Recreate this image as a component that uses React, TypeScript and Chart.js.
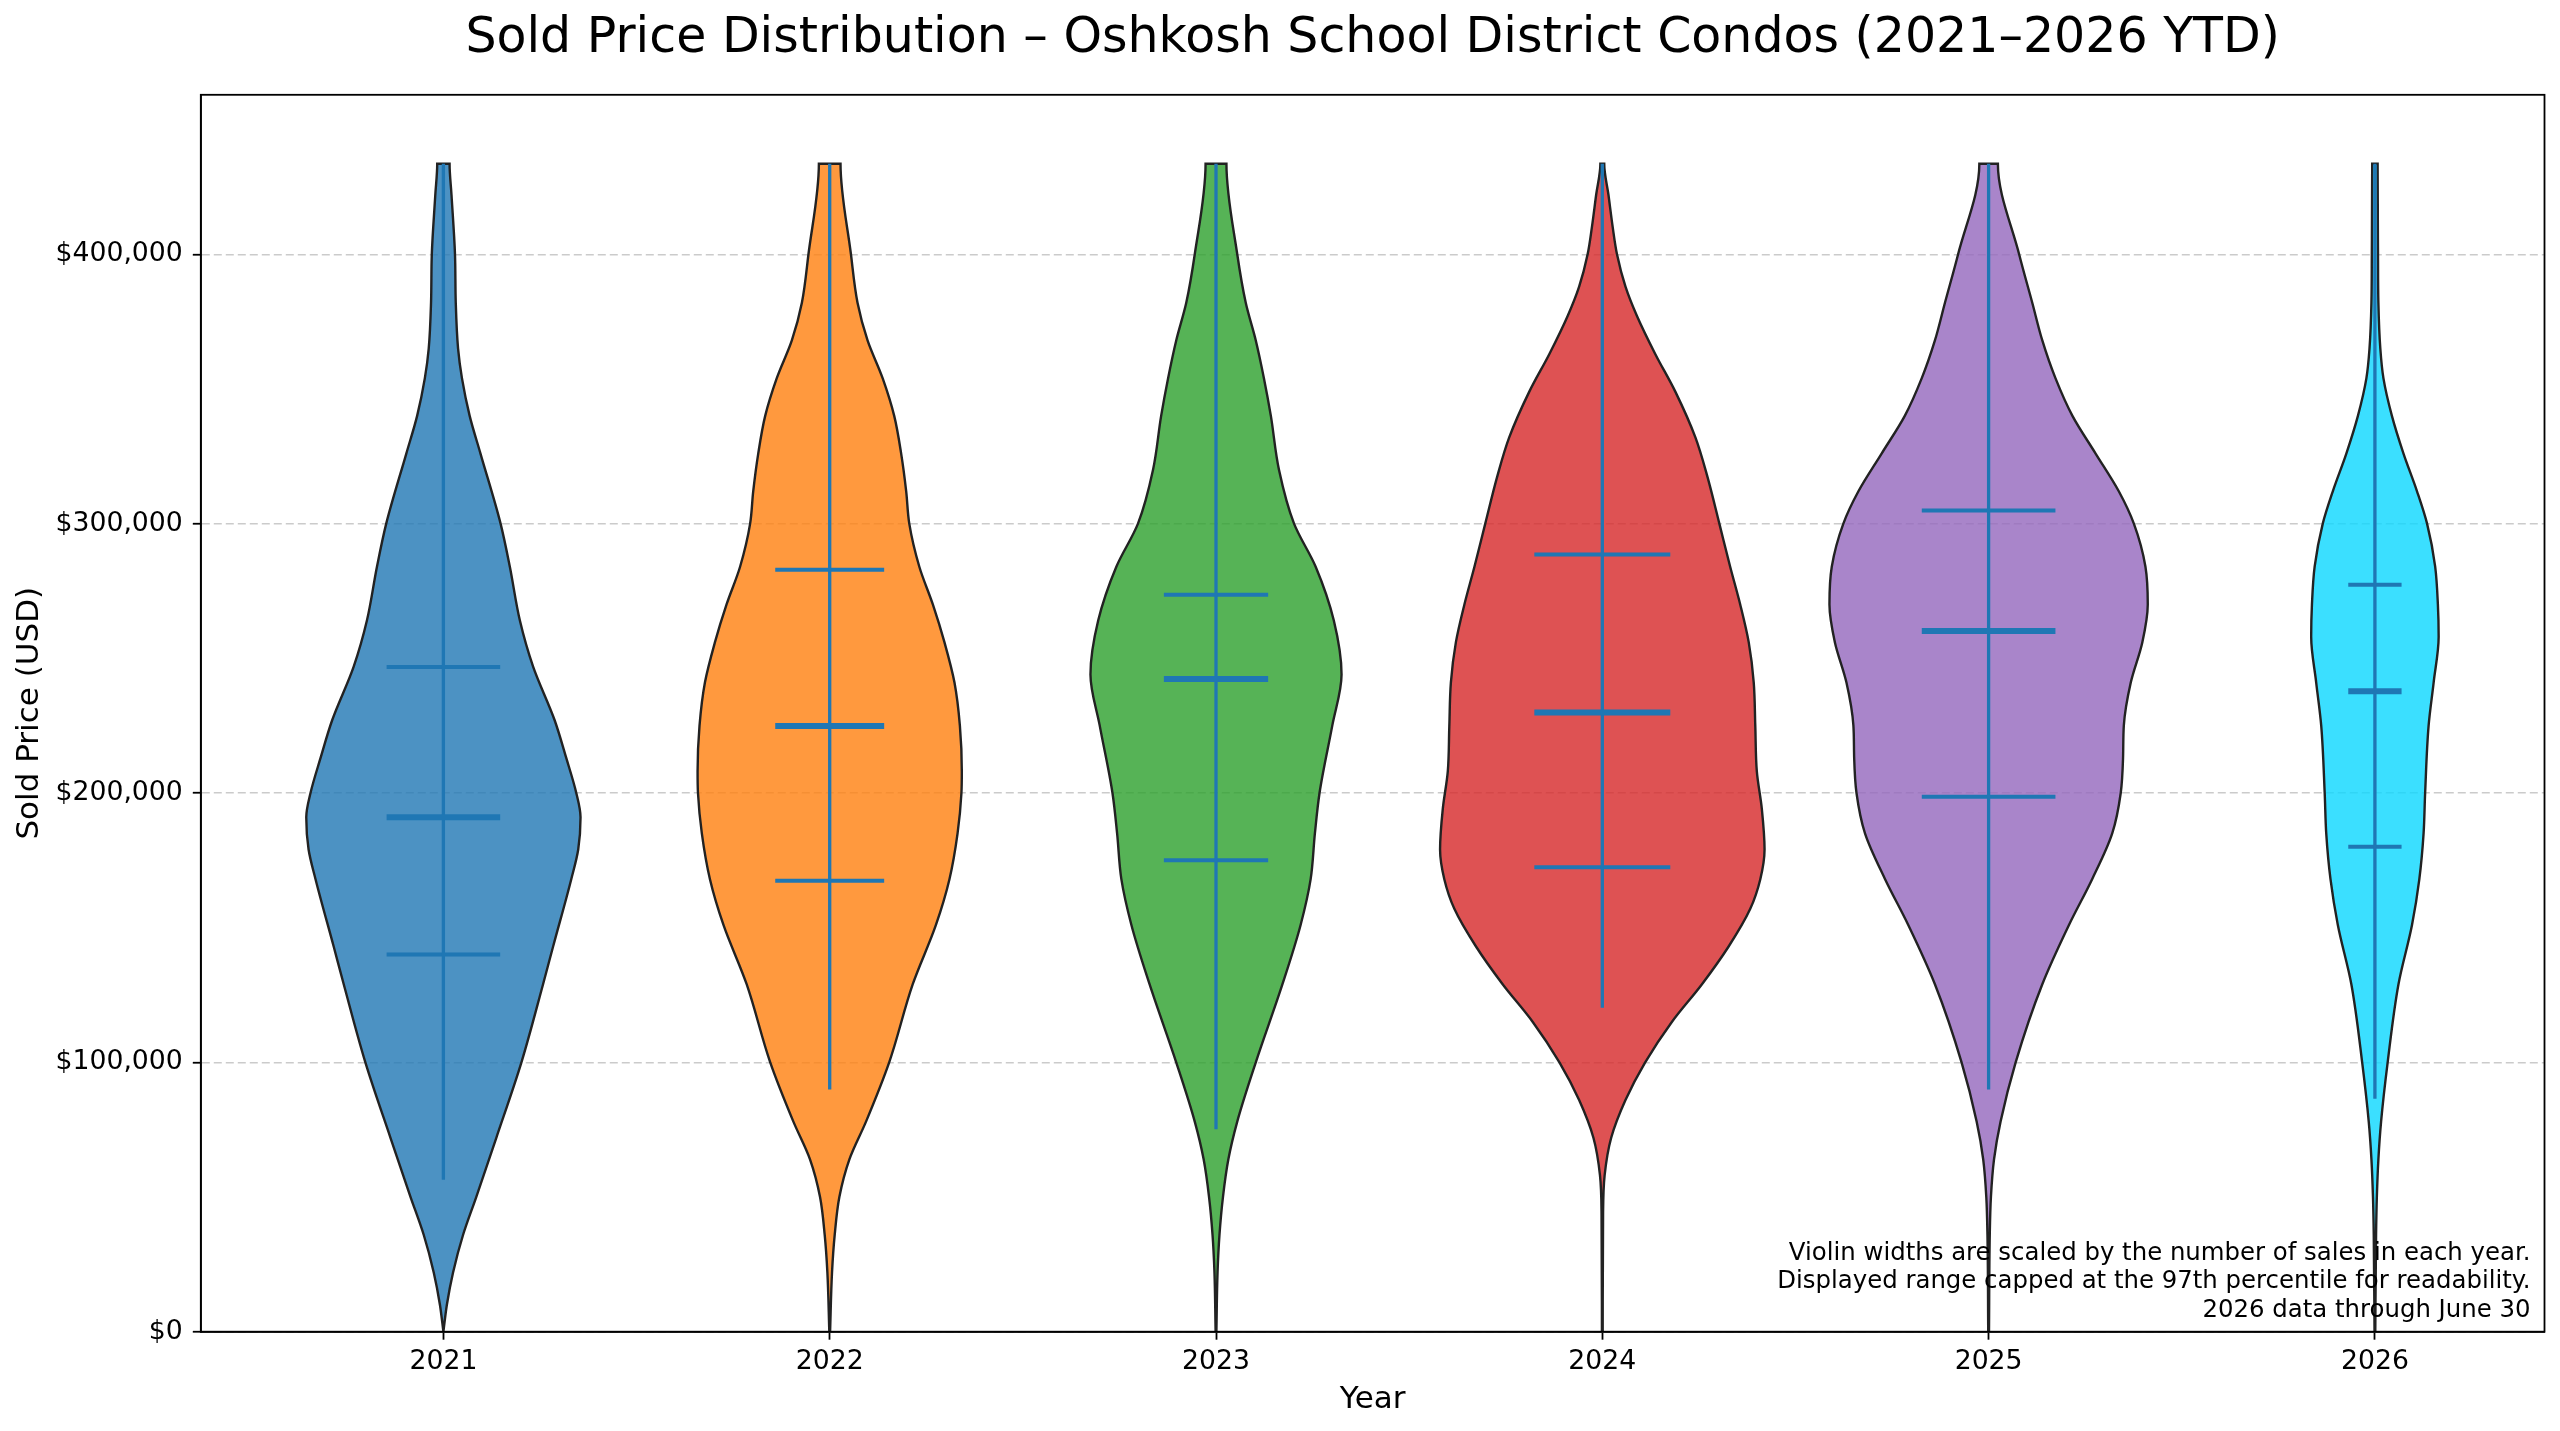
import { useEffect, useRef } from "react"
import { Chart, registerables, type ChartConfiguration, type Plugin } from "chart.js"

Chart.register(...registerables)

// Years (x positions of the violins)
const years = [2021, 2022, 2023, 2024, 2025, 2026]

// Violin outlines: price levels (USD, thousands) and the half-width (x-axis units) read at each
const prices2021 = [0, 10, 22, 36, 50, 72, 100, 129, 143, 168, 179, 191, 200, 213, 227, 247, 264, 284, 300, 326, 340, 354, 365, 382, 400, 422, 433.6]
const halfWidths2021 = [0, 0.009, 0.025, 0.051, 0.085, 0.137, 0.202, 0.258, 0.284, 0.331, 0.349, 0.355, 0.344, 0.318, 0.288, 0.232, 0.198, 0.172, 0.148, 0.096, 0.068, 0.048, 0.038, 0.032, 0.03, 0.021, 0.016]

const prices2022 = [0, 22, 36, 50, 64, 78, 100, 129, 151, 168, 185, 200, 208, 225, 241, 256, 270, 284, 300, 312, 326, 340, 354, 368, 382, 400, 433.6]
const halfWidths2022 = [0.001, 0.006, 0.013, 0.025, 0.051, 0.094, 0.154, 0.215, 0.275, 0.31, 0.331, 0.341, 0.342, 0.337, 0.323, 0.297, 0.267, 0.232, 0.206, 0.198, 0.185, 0.167, 0.137, 0.098, 0.072, 0.055, 0.028]

const prices2023 = [0, 22, 36, 50, 64, 78, 100, 129, 151, 168, 185, 200, 225, 244, 264, 284, 300, 320, 340, 354, 368, 382, 400, 433.6]
const halfWidths2023 = [0.001, 0.004, 0.009, 0.018, 0.032, 0.055, 0.103, 0.172, 0.219, 0.245, 0.256, 0.268, 0.301, 0.325, 0.305, 0.258, 0.202, 0.163, 0.142, 0.124, 0.103, 0.077, 0.055, 0.027]

const prices2024 = [0, 44, 58, 72, 86, 100, 115, 129, 143, 157, 168, 179, 194, 208, 225, 241, 256, 270, 284, 300, 318, 332, 349, 363, 377, 388, 400, 410, 422, 433.6]
const halfWidths2024 = [0.001, 0.002, 0.006, 0.023, 0.06, 0.111, 0.18, 0.258, 0.327, 0.383, 0.409, 0.42, 0.413, 0.4, 0.396, 0.392, 0.379, 0.357, 0.331, 0.303, 0.271, 0.241, 0.189, 0.137, 0.09, 0.06, 0.038, 0.027, 0.016, 0.005]

const prices2025 = [0, 36, 50, 64, 78, 100, 129, 151, 168, 185, 200, 213, 225, 241, 256, 270, 284, 300, 312, 326, 340, 354, 368, 382, 400, 433.6]
const halfWidths2025 = [0.001, 0.003, 0.006, 0.014, 0.031, 0.07, 0.139, 0.208, 0.268, 0.32, 0.342, 0.348, 0.35, 0.368, 0.398, 0.412, 0.406, 0.376, 0.337, 0.277, 0.217, 0.173, 0.139, 0.113, 0.079, 0.024]

const prices2026 = [0, 36, 50, 64, 78, 100, 129, 151, 168, 185, 200, 225, 241, 258, 270, 284, 300, 312, 326, 340, 354, 365, 382, 400, 433.6]
const halfWidths2026 = [0.001, 0.003, 0.005, 0.009, 0.016, 0.033, 0.061, 0.096, 0.115, 0.126, 0.13, 0.139, 0.152, 0.165, 0.163, 0.156, 0.135, 0.109, 0.074, 0.044, 0.022, 0.014, 0.009, 0.008, 0.007]

const violinPrices = [prices2021, prices2022, prices2023, prices2024, prices2025, prices2026]
const violinHalfWidths = [halfWidths2021, halfWidths2022, halfWidths2023, halfWidths2024, halfWidths2025, halfWidths2026]

// Summary statistics per year (USD)
const lowerQuartiles = [140000, 167400, 175000, 172400, 198600, 180000]
const medians = [191000, 224900, 242300, 229900, 260100, 237800]
const upperQuartiles = [246800, 282900, 273600, 288500, 304900, 277300]
const stemLows = [56400, 89900, 75200, 120300, 89900, 86500]
const stemHighs = [433600, 433600, 433600, 433600, 433600, 433600]
// Half-length of the median / quartile bars (x-axis units), scaled with sales count
const barHalfWidths = [0.147, 0.141, 0.135, 0.176, 0.173, 0.069]

const yTicks = [0, 100000, 200000, 300000, 400000]

const noteLines = [
  "Violin widths are scaled by the number of sales in each year.",
  "Displayed range capped at the 97th percentile for readability.",
  "2026 data through June 30",
]

const fillColors = [
  "rgba(31, 119, 180, 0.8)",
  "rgba(255, 127, 14, 0.8)",
  "rgba(44, 160, 44, 0.8)",
  "rgba(214, 39, 40, 0.8)",
  "rgba(148, 103, 189, 0.8)",
  "rgba(10, 215, 255, 0.8)",
]

const FONT = "'DejaVu Sans', 'Liberation Sans', sans-serif"
const STAT_COLOR = "#1f77b4"

// Box around the whole plot area (matplotlib spines)
const framePlugin: Plugin = {
  id: "frame",
  afterDraw(chart) {
    const { ctx, chartArea: a } = chart
    ctx.save()
    ctx.strokeStyle = "#000"
    ctx.lineWidth = 1.8
    ctx.strokeRect(a.left, a.top, a.right - a.left, a.bottom - a.top)
    ctx.restore()
  },
}

// Footnote in the lower-right corner of the axes
const notePlugin: Plugin = {
  id: "note",
  afterDatasetsDraw(chart) {
    const { ctx, chartArea: a } = chart
    ctx.save()
    ctx.font = `24.4px ${FONT}`
    ctx.fillStyle = "#000"
    ctx.textAlign = "right"
    ctx.textBaseline = "alphabetic"
    const n = noteLines.length
    noteLines.forEach((line, i) => {
      ctx.fillText(line, a.right - 14, a.bottom - 15 - (n - 1 - i) * 28.6)
    })
    ctx.restore()
  },
}

const hLine = (x: number, half: number, y: number) => [
  { x: x - half, y },
  { x: x + half, y },
]

export default function App() {
  const canvasRef = useRef<HTMLCanvasElement>(null)
  const chartRef = useRef<Chart | null>(null)

  useEffect(() => {
    document.body.style.margin = "0"
    document.body.style.overflow = "hidden"
    if (!canvasRef.current) return
    if (chartRef.current) chartRef.current.destroy()

    // Violin bodies: right side going up, left side coming back down.
    // Drawn as y-indexed lines so the monotone spline follows the price axis.
    const violinSets = years.map((year, i) => {
      const ps = violinPrices[i]
      const hw = violinHalfWidths[i]
      const right = ps.map((p, j) => ({ x: year + hw[j], y: p * 1000 }))
      const left = ps.map((p, j) => ({ x: year - hw[j], y: p * 1000 })).reverse()
      return {
        type: "line",
        indexAxis: "y",
        label: String(year),
        data: [...right, ...left],
        showLine: true,
        fill: "shape",
        backgroundColor: fillColors[i],
        borderColor: "#222",
        borderWidth: 2.4,
        pointRadius: 0,
        cubicInterpolationMode: "monotone",
        order: 2,
      }
    })

    const statSets: any[] = []
    years.forEach((year, i) => {
      statSets.push({
        label: `${year} range`,
        data: [
          { x: year, y: stemLows[i] },
          { x: year, y: stemHighs[i] },
        ],
        showLine: true,
        borderColor: STAT_COLOR,
        borderWidth: 3.3,
        pointRadius: 0,
        order: 1,
      })
      ;[lowerQuartiles[i], upperQuartiles[i]].forEach((q) => {
        statSets.push({
          label: `${year} quartile`,
          data: hLine(year, barHalfWidths[i], q),
          showLine: true,
          borderColor: STAT_COLOR,
          borderWidth: 4,
          pointRadius: 0,
          order: 1,
        })
      })
      statSets.push({
        label: `${year} median`,
        data: hLine(year, barHalfWidths[i], medians[i]),
        showLine: true,
        borderColor: STAT_COLOR,
        borderWidth: 6,
        pointRadius: 0,
        order: 0,
      })
    })

    const config: ChartConfiguration = {
      type: "scatter",
      data: { datasets: [...statSets, ...violinSets] as any },
      options: {
        responsive: true,
        maintainAspectRatio: false,
        animation: false,
        events: [],
        layout: { padding: { left: 0, right: 15.5, top: 0, bottom: 0 } },
        plugins: {
          legend: { display: false },
          tooltip: { enabled: false },
          title: {
            display: true,
            text: "Sold Price Distribution – Oshkosh School District Condos (2021–2026 YTD)",
            color: "#000",
            font: { family: FONT, size: 49, weight: "normal" },
            padding: { top: 10, bottom: 26 },
            fullSize: false,
          },
        },
        scales: {
          x: {
            type: "linear",
            min: 2020.372,
            max: 2026.439,
            afterBuildTicks: (scale) => {
              scale.ticks = years.map((value) => ({ value }))
            },
            afterFit: (scale) => {
              scale.height = 99.3
            },
            ticks: {
              autoSkip: false,
              color: "#000",
              font: { family: FONT, size: 26.7 },
              padding: 6,
              callback: (value) => String(value),
            },
            grid: {
              drawOnChartArea: false,
              drawTicks: true,
              tickLength: 8,
              tickColor: "#000",
              tickWidth: 1.8,
            },
            border: { display: true, color: "#000", width: 1.8 },
            title: {
              display: true,
              text: "Year",
              color: "#000",
              font: { family: FONT, size: 31 },
              padding: { top: 0, bottom: 12.5 },
            },
          },
          y: {
            type: "linear",
            min: 0,
            max: 459200,
            afterBuildTicks: (scale) => {
              scale.ticks = yTicks.map((value) => ({ value }))
            },
            afterFit: (scale) => {
              scale.width = 200.8
            },
            ticks: {
              color: "#000",
              font: { family: FONT, size: 26.7 },
              padding: 10,
              callback: (value) => "$" + Number(value).toLocaleString("en-US"),
            },
            grid: {
              color: "rgba(185, 185, 185, 0.75)",
              lineWidth: 1.5,
              drawTicks: true,
              tickLength: 8,
              tickColor: "#000",
              tickWidth: 1.8,
              tickBorderDash: [],
            },
            border: { display: true, color: "#000", width: 1.8, dash: [8, 4] },
            title: {
              display: true,
              text: "Sold Price (USD)",
              color: "#000",
              font: { family: FONT, size: 31 },
              padding: { top: 11, bottom: 0 },
            },
          },
        },
      },
      plugins: [framePlugin, notePlugin],
    }

    chartRef.current = new Chart(canvasRef.current, config)

    return () => {
      if (chartRef.current) {
        chartRef.current.destroy()
        chartRef.current = null
      }
    }
  }, [])

  return (
    <div style={{ position: "relative", width: 2560, height: 1431, background: "#fff" }}>
      <canvas ref={canvasRef}></canvas>
    </div>
  )
}
